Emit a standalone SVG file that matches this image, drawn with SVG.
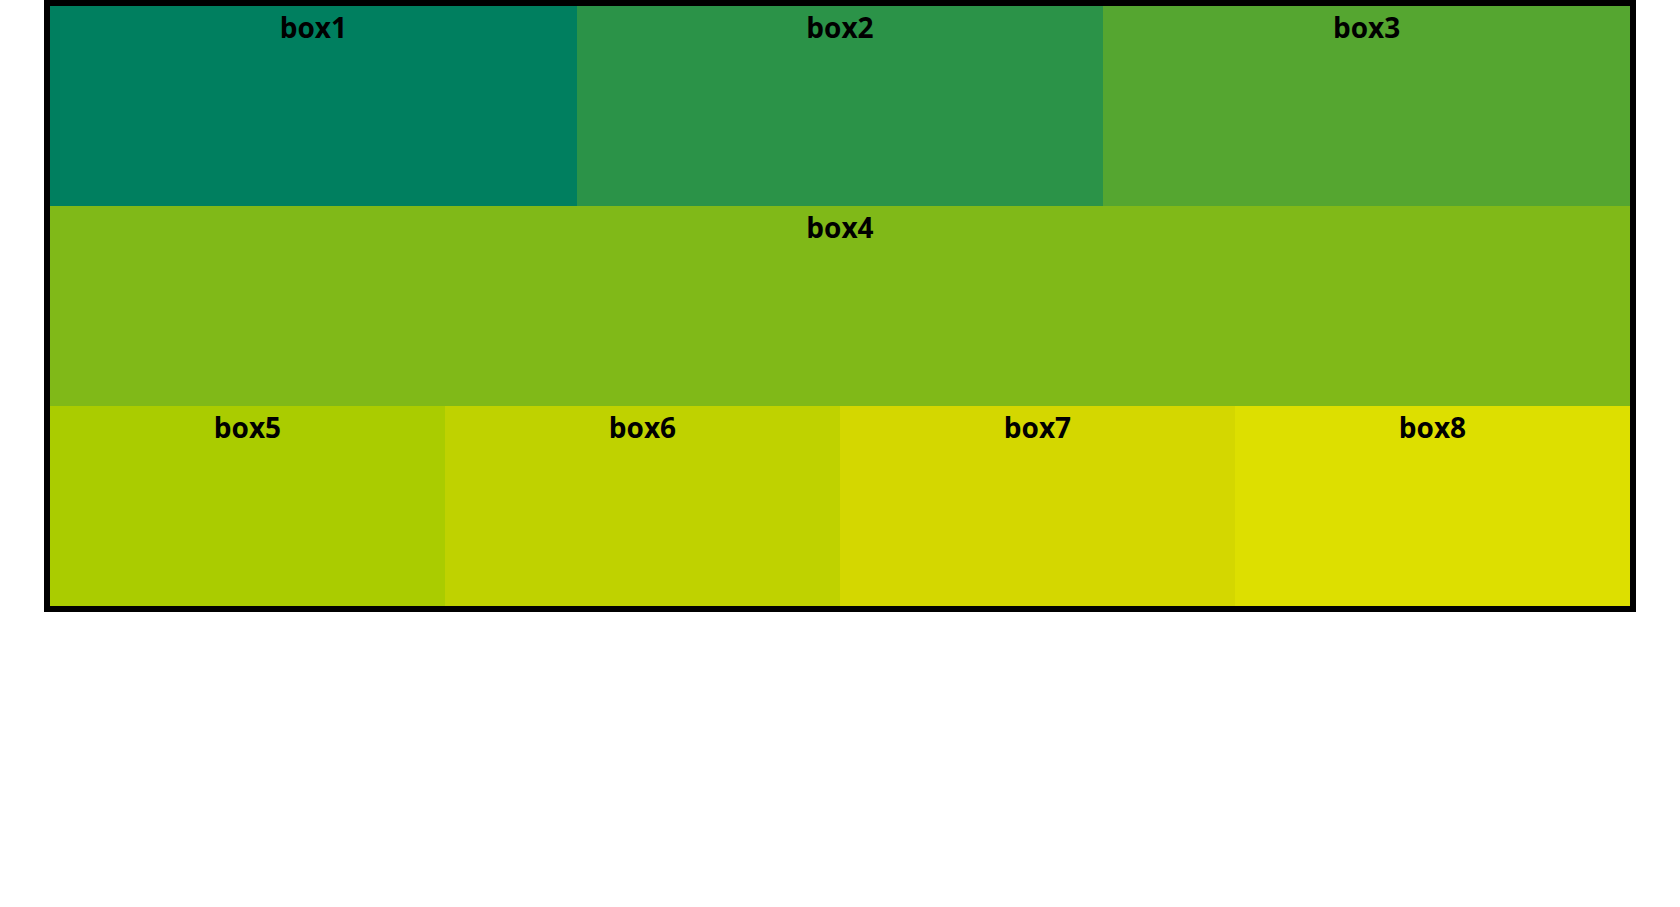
<svg xmlns="http://www.w3.org/2000/svg" width="1680" height="907" viewBox="0 0 1680 907">
<style>
text{font-family:"Open Sans","Liberation Sans",sans-serif;font-weight:700;font-size:28px;fill:#000;text-anchor:middle}
</style>
<rect width="1680" height="907" fill="#fff"/>
<g id="box1"><rect x="50" y="6" width="527" height="200" fill="#007f5f"/><text x="313.3" y="38">box1</text></g>
<g id="box2"><rect x="577" y="6" width="526" height="200" fill="#2b9348"/><text x="840" y="38">box2</text></g>
<g id="box3"><rect x="1103" y="6" width="527" height="200" fill="#55a630"/><text x="1366.7" y="38">box3</text></g>
<g id="box4"><rect x="50" y="206" width="1580" height="200" fill="#80b918"/><text x="840" y="238">box4</text></g>
<g id="box5"><rect x="50" y="406" width="395" height="200" fill="#aacc00"/><text x="247.5" y="438">box5</text></g>
<g id="box6"><rect x="445" y="406" width="395" height="200" fill="#bfd200"/><text x="642.5" y="438">box6</text></g>
<g id="box7"><rect x="840" y="406" width="395" height="200" fill="#d4d700"/><text x="1037.5" y="438">box7</text></g>
<g id="box8"><rect x="1235" y="406" width="395" height="200" fill="#dddf00"/><text x="1432.5" y="438">box8</text></g>
<g id="connectors"></g>
<rect id="frame" x="47" y="3" width="1586" height="606" fill="none" stroke="#000" stroke-width="6"/>
</svg>
